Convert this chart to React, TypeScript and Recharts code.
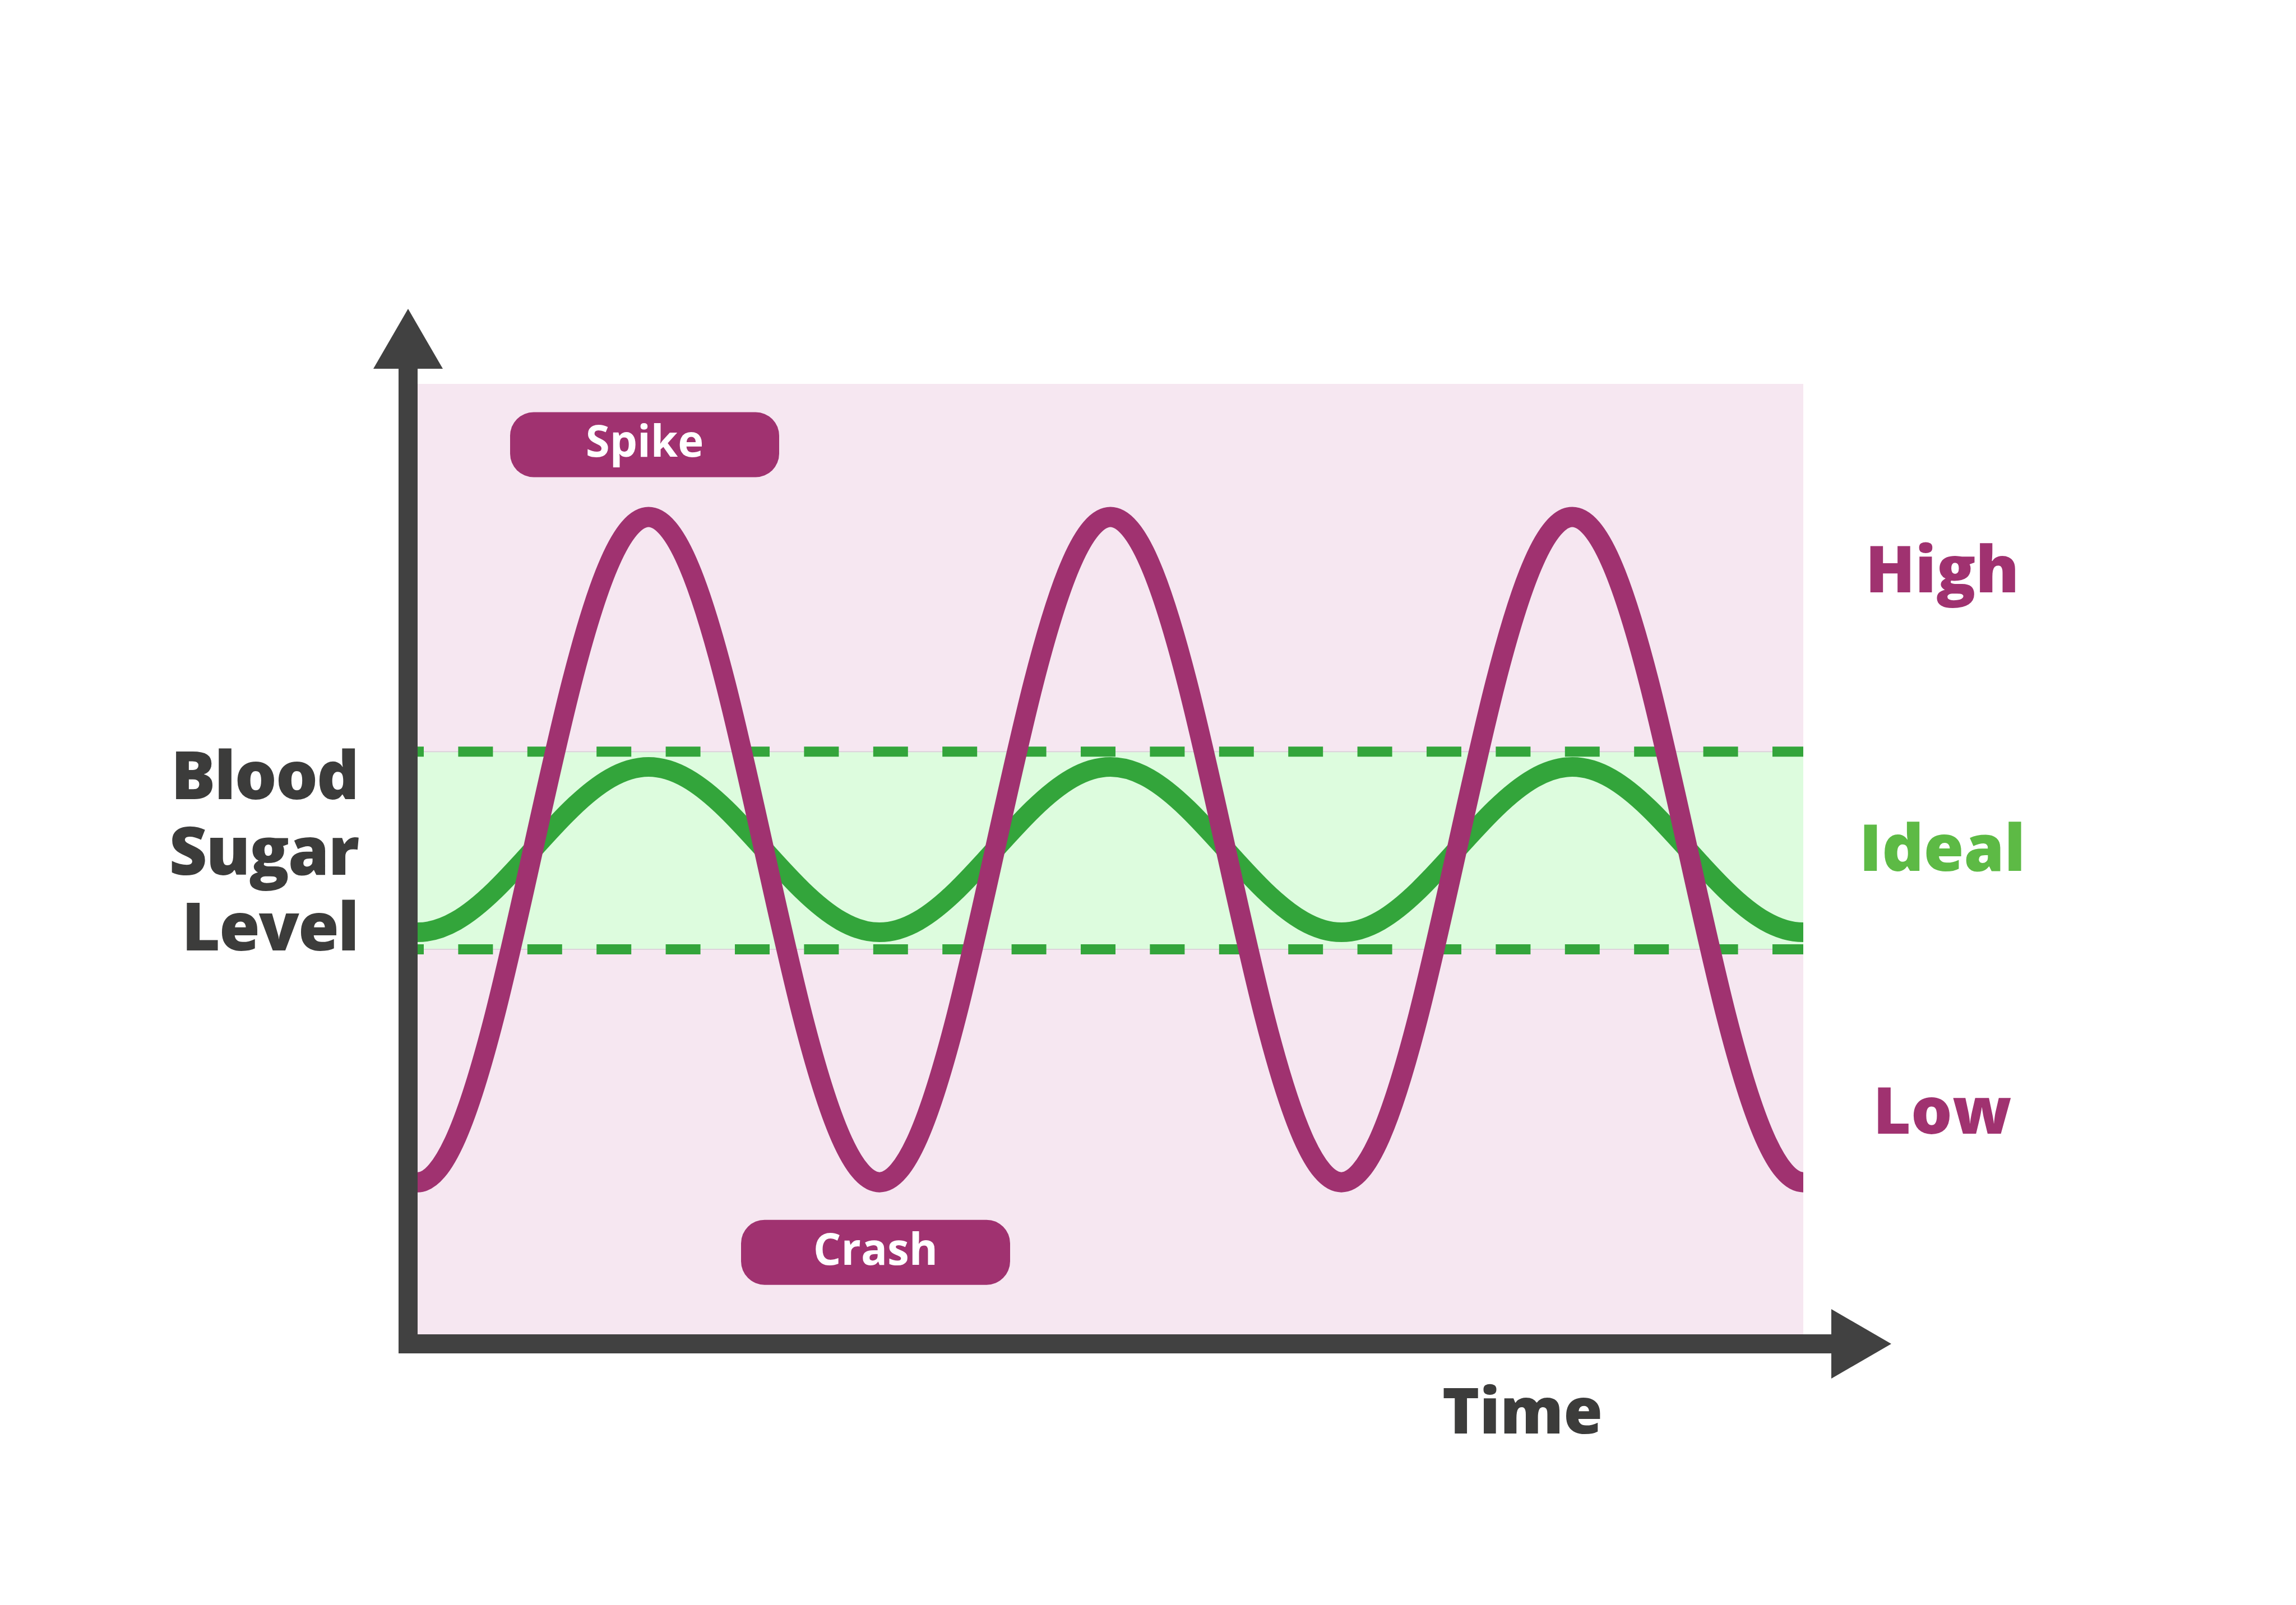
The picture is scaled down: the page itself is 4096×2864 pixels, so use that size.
import {
	Label,
	Line,
	LineChart,
	ReferenceArea,
	ReferenceDot,
	ReferenceLine,
	XAxis,
	YAxis,
} from 'recharts'

// time steps, one cycle = 12 steps
const time = [
	0, 1, 2, 3, 4, 5, 6, 7, 8, 9, 10, 11, 12, 13, 14, 15, 16, 17, 18, 19, 20,
	21, 22, 23, 24, 25, 26, 27, 28, 29, 30, 31, 32, 33, 34, 35, 36,
]

// spike / crash curve
const spikeLevel = [
	16, 20.7, 33.5, 51, 68.5, 81.3, 86, 81.3, 68.5, 51, 33.5, 20.7, 16, 20.7,
	33.5, 51, 68.5, 81.3, 86, 81.3, 68.5, 51, 33.5, 20.7, 16, 20.7, 33.5, 51,
	68.5, 81.3, 86, 81.3, 68.5, 51, 33.5, 20.7, 16,
]

// steady curve inside the ideal band
const idealLevel = [
	42.3, 43.5, 46.7, 51, 55.3, 58.5, 59.7, 58.5, 55.3, 51, 46.7, 43.5, 42.3,
	43.5, 46.7, 51, 55.3, 58.5, 59.7, 58.5, 55.3, 51, 46.7, 43.5, 42.3, 43.5,
	46.7, 51, 55.3, 58.5, 59.7, 58.5, 55.3, 51, 46.7, 43.5, 42.3,
]

const idealBand = [40.5, 61.3]

const zoneTicks = [80.5, 51.2, 23.6]
const zoneNames = ['High', 'Ideal', 'Low']

const titleLines = ['Blood', 'Sugar', 'Level']

const spikeAt = { t: 6, v: 86 }
const crashAt = { t: 12, v: 16 }

const PURPLE = '#A03270'
const GREEN = '#33A53B'
const AXIS = '#414141'
const FONT = "'Open Sans', sans-serif"

const tStart = time[0]
const tEnd = time[time.length - 1]

const data = time.map((t, i) => ({
	t,
	spike: spikeLevel[i],
	ideal: idealLevel[i],
}))

const zoneColors: Record<string, string> = {
	High: PURPLE,
	Ideal: '#5DBA45',
	Low: PURPLE,
}

// clamped cubic spline: smooth everywhere, flat at both ends
function clampedCurve(context: any) {
	let xs: number[] = []
	let ys: number[] = []
	return {
		areaStart() {},
		areaEnd() {},
		lineStart() {
			xs = []
			ys = []
		},
		point(x: number, y: number) {
			xs.push(+x)
			ys.push(+y)
		},
		lineEnd() {
			const n = xs.length
			if (!n) return
			context.moveTo(xs[0], ys[0])
			if (n < 2) return
			const h = xs.slice(1).map((x, i) => x - xs[i])
			const d = h.map((hh, i) => (ys[i + 1] - ys[i]) / hh)
			const m = new Array(n).fill(0)
			if (n > 2) {
				// tridiagonal solve for inner slopes, m[0] = m[n-1] = 0
				const k = n - 2
				const a: number[] = []
				const b: number[] = []
				const c: number[] = []
				const r: number[] = []
				for (let j = 0; j < k; j++) {
					const i = j + 1
					a.push(h[i])
					b.push(2 * (h[i - 1] + h[i]))
					c.push(h[i - 1])
					r.push(3 * (h[i] * d[i - 1] + h[i - 1] * d[i]))
				}
				for (let j = 1; j < k; j++) {
					const w = a[j] / b[j - 1]
					b[j] -= w * c[j - 1]
					r[j] -= w * r[j - 1]
				}
				m[k] = r[k - 1] / b[k - 1]
				for (let j = k - 2; j >= 0; j--) {
					m[j + 1] = (r[j] - c[j] * m[j + 2]) / b[j]
				}
			}
			for (let i = 0; i < n - 1; i++) {
				const s = h[i] / 3
				context.bezierCurveTo(
					xs[i] + s,
					ys[i] + m[i] * s,
					xs[i + 1] - s,
					ys[i + 1] - m[i + 1] * s,
					xs[i + 1],
					ys[i + 1]
				)
			}
		},
	}
}

function zoneLabel(name: string) {
	return ({ cx, cy }: any) => (
		<text
			x={cx + 248}
			y={cy}
			dy='0.36em'
			textAnchor='middle'
			fill={zoneColors[name]}
			fontFamily={FONT}
			fontWeight={800}
			fontSize={116}
		>
			{name}
		</text>
	)
}

function LevelTitle({ viewBox }: any) {
	const right = viewBox.x + viewBox.width - 89
	return (
		<g>
			{titleLines.map((s, i) => (
				<text
					key={s}
					x={right}
					y={viewBox.y + 768 + i * 135}
					textAnchor='end'
					fill='#3C3C3B'
					fontFamily={FONT}
					fontWeight={800}
					fontSize={118}
					letterSpacing={-2}
				>
					{s}
				</text>
			))}
		</g>
	)
}

function TimeTitle({ viewBox }: any) {
	return (
		<text
			x={viewBox.x + 1988}
			y={viewBox.y + 160}
			textAnchor='middle'
			fill='#3C3C3B'
			fontFamily={FONT}
			fontWeight={800}
			fontSize={113}
		>
			Time
		</text>
	)
}

function pill(text: string, dy: number) {
	return ({ cx, cy }: any) => {
		const mx = cx - 7
		const my = cy + dy
		return (
			<g>
				<rect x={mx - 240} y={my - 58} width={480} height={116} rx={42} fill={PURPLE} />
				<text
					x={mx}
					y={my + 22}
					textAnchor='middle'
					fill='#fff'
					fontFamily={FONT}
					fontWeight={700}
					fontSize={78}
				>
					{text}
				</text>
			</g>
		)
	}
}

export default function App() {
	return (
		<div
			style={{
				position: 'absolute',
				left: 0,
				top: 0,
				width: 4096,
				height: 2864,
				background: '#fff',
			}}
		>
			<svg width={0} height={0} style={{ position: 'absolute' }}>
				<defs>
					<marker
						id='axisArrow'
						markerUnits='userSpaceOnUse'
						viewBox='0 0 107 124'
						markerWidth={107}
						markerHeight={124}
						refX={0}
						refY={62}
						orient='auto-start-reverse'
					>
						<path d='M0,0 L107,62 L0,124 Z' fill={AXIS} />
					</marker>
				</defs>
			</svg>
			<LineChart
				width={4096}
				height={2864}
				data={data}
				margin={{ top: 658, right: 829, bottom: 0, left: 0 }}
			>
				<XAxis
					dataKey='t'
					type='number'
					domain={[tStart, tEnd]}
					padding={{ left: 17, right: 50 }}
					height={466}
					tick={false}
					tickLine={false}
					axisLine={{
						stroke: AXIS,
						strokeWidth: 34,
						strokeLinecap: 'square',
						markerEnd: 'url(#axisArrow)',
					}}
				>
					<Label content={TimeTitle} />
				</XAxis>
				<YAxis
					type='number'
					domain={[0, 100]}
					padding={{ top: 27, bottom: 17 }}
					width={728}
					tick={false}
					tickLine={false}
					axisLine={{
						stroke: AXIS,
						strokeWidth: 34,
						strokeLinecap: 'square',
						markerStart: 'url(#axisArrow)',
					}}
				>
					<Label content={LevelTitle} />
				</YAxis>
				<ReferenceArea
					x1={tStart}
					x2={tEnd}
					y1={0}
					y2={100}
					fill='#F6E7F1'
					fillOpacity={1}
					stroke='none'
				/>
				<ReferenceArea
					x1={tStart}
					x2={tEnd}
					y1={idealBand[0]}
					y2={idealBand[1]}
					fill='#DDFCDE'
					fillOpacity={1}
					stroke='none'
				/>
				{idealBand.map((v) => (
					<ReferenceLine
						key={'thin' + v}
						segment={[
							{ x: tStart, y: v },
							{ x: tEnd, y: v },
						]}
						stroke='#DCD3DA'
						strokeWidth={2}
					/>
				))}
				{idealBand.map((v) => (
					<ReferenceLine
						key={'dash' + v}
						segment={[
							{ x: tStart, y: v },
							{ x: tEnd, y: v },
						]}
						stroke={GREEN}
						strokeWidth={18}
						strokeDasharray='62 61.4'
						strokeDashoffset={51}
					/>
				))}
				<Line
					type={clampedCurve as any}
					dataKey='ideal'
					stroke={GREEN}
					strokeWidth={35}
					dot={false}
					activeDot={false}
					isAnimationActive={false}
				/>
				<Line
					type={clampedCurve as any}
					dataKey='spike'
					stroke={PURPLE}
					strokeWidth={36}
					dot={false}
					activeDot={false}
					isAnimationActive={false}
				/>
				<ReferenceDot x={spikeAt.t} y={spikeAt.v} r={0} shape={pill('Spike', -129)} />
				<ReferenceDot x={crashAt.t} y={crashAt.v} r={0} shape={pill('Crash', 125)} />
				{zoneNames.map((name, i) => (
					<ReferenceDot
						key={name}
						x={tEnd}
						y={zoneTicks[i]}
						r={0}
						ifOverflow='visible'
						shape={zoneLabel(name)}
					/>
				))}
			</LineChart>
		</div>
	)
}
